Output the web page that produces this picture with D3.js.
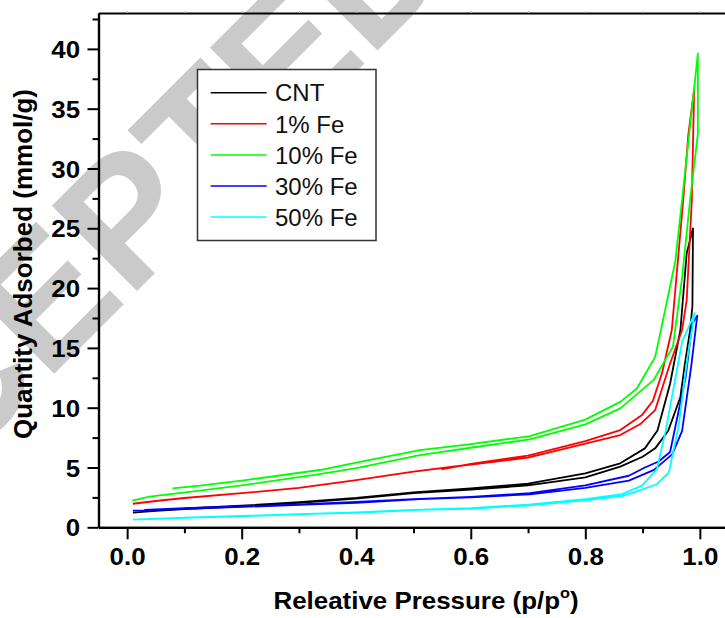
<!DOCTYPE html>
<html><head><meta charset="utf-8">
<script src="https://cdn.jsdelivr.net/npm/d3@7"></script>
<style>html,body{margin:0;padding:0;background:#fff;}svg{display:block;}</style>
</head><body>
<script>
// ---- data ----
const seriesNames = ["CNT", "1% Fe", "10% Fe", "30% Fe", "50% Fe"];
const seriesColors = ["#000000", "#ff0000", "#00ff00", "#0000ff", "#00ffff"];

const cntAdsP = [0.01, 0.05, 0.1, 0.2, 0.3, 0.4, 0.5, 0.6, 0.7, 0.8, 0.861, 0.9, 0.922, 0.945, 0.966, 0.974, 0.983, 0.987, 0.988];
const cntAdsQ = [1.22, 1.38, 1.52, 1.75, 2.05, 2.4, 2.85, 3.15, 3.5, 4.18, 5.07, 5.9, 6.6, 8.1, 10.9, 13.7, 16.5, 18.5, 25.0];
const cntDesP = [0.988, 0.977, 0.966, 0.948, 0.926, 0.904, 0.861, 0.8, 0.7, 0.6, 0.5, 0.4, 0.3, 0.2, 0.1];
const cntDesQ = [25.0, 22.9, 16.5, 12.0, 8.1, 6.6, 5.35, 4.5, 3.65, 3.25, 2.92, 2.45, 2.1, 1.8, 1.58];

const fe1AdsP = [0.01, 0.05, 0.1, 0.2, 0.3, 0.4, 0.5, 0.6, 0.7, 0.8, 0.861, 0.896, 0.922, 0.948, 0.969, 0.977, 0.986, 0.99];
const fe1AdsQ = [1.97, 2.2, 2.45, 2.85, 3.3, 3.95, 4.65, 5.25, 5.83, 7.0, 7.71, 8.63, 9.8, 13.7, 16.5, 19.0, 27.4, 36.6];
const fe1DesP = [0.99, 0.98, 0.971, 0.951, 0.934, 0.918, 0.899, 0.861, 0.8, 0.7, 0.6, 0.549];
const fe1DesQ = [36.6, 32.9, 27.4, 16.5, 12.9, 10.58, 9.38, 8.13, 7.2, 6.0, 5.3, 4.85];

const fe10AdsP = [0.009, 0.039, 0.127, 0.2, 0.336, 0.4, 0.511, 0.6, 0.703, 0.8, 0.861, 0.919, 0.953, 0.969, 0.983, 0.9965, 0.9965];
const fe10AdsQ = [2.22, 2.56, 3.06, 3.5, 4.45, 4.95, 6.04, 6.65, 7.35, 8.6, 9.94, 12.3, 15.1, 20.9, 27.4, 32.9, 39.6];
const fe10DesP = [0.9965, 0.969, 0.957, 0.932, 0.922, 0.89, 0.861, 0.8, 0.703, 0.6, 0.511, 0.4, 0.336, 0.2, 0.127, 0.079];
const fe10DesQ = [39.6, 27.4, 22.2, 16.5, 14.25, 11.6, 10.49, 9.0, 7.63, 6.95, 6.46, 5.4, 4.79, 3.9, 3.48, 3.26];

const fe30AdsP = [0.01, 0.127, 0.2, 0.336, 0.4, 0.511, 0.6, 0.703, 0.8, 0.876, 0.92, 0.952, 0.969, 0.985, 0.9955];
const fe30AdsQ = [1.39, 1.59, 1.7, 1.95, 2.05, 2.36, 2.5, 2.76, 3.3, 3.9, 4.8, 6.12, 8.07, 13.5, 17.7];
const fe30DesP = [0.9955, 0.9866, 0.975, 0.948, 0.928, 0.904, 0.876, 0.8, 0.703, 0.6, 0.5, 0.4, 0.3, 0.2, 0.1, 0.03];
const fe30DesQ = [17.7, 17.0, 12.5, 6.3, 5.5, 5.0, 4.31, 3.5, 2.85, 2.55, 2.35, 2.12, 1.92, 1.74, 1.6, 1.45];

const fe50AdsP = [0.01, 0.127, 0.2, 0.336, 0.4, 0.511, 0.6, 0.703, 0.8, 0.864, 0.887, 0.925, 0.946, 0.963, 0.978, 0.991];
const fe50AdsQ = [0.64, 0.84, 0.92, 1.14, 1.2, 1.45, 1.55, 1.84, 2.25, 2.6, 2.97, 3.6, 4.6, 8.5, 14.1, 17.9];
const fe50DesP = [0.991, 0.969, 0.94, 0.925, 0.899, 0.864, 0.8, 0.7, 0.6, 0.5, 0.4, 0.3, 0.2, 0.1];
const fe50DesQ = [17.9, 15.5, 8.0, 4.87, 3.48, 2.78, 2.35, 1.9, 1.6, 1.45, 1.25, 1.1, 0.95, 0.8];

const xMajorTicks = [0.0, 0.2, 0.4, 0.6, 0.8, 1.0];
const xMinorTicks = [0.1, 0.3, 0.5, 0.7, 0.9];
const yMajorTicks = [0, 5, 10, 15, 20, 25, 30, 35, 40];
const yMinorTicks = [2.5, 7.5, 12.5, 17.5, 22.5, 27.5, 32.5, 37.5, 42.5];

const xTitle = "Releative Pressure (p/p";
const yTitle = "Quantity Adsorbed (mmol/g)";
const watermark = "ACCEPTED MANUSCRIPT";

// ---- build ----
const series = [
  [cntAdsP, cntAdsQ, cntDesP, cntDesQ],
  [fe1AdsP, fe1AdsQ, fe1DesP, fe1DesQ],
  [fe10AdsP, fe10AdsQ, fe10DesP, fe10DesQ],
  [fe30AdsP, fe30AdsQ, fe30DesP, fe30DesQ],
  [fe50AdsP, fe50AdsQ, fe50DesP, fe50DesQ]
].map((s, i) => ({
  name: seriesNames[i], color: seriesColors[i],
  pts: s[0].map((p, j) => [p, s[1][j]]).concat(s[2].map((p, j) => [p, s[3][j]]))
}));

const W = 725, H = 618;
const L = 98.5, R = 728.5, T = 13, B = 527.3;
const svg = d3.select("body").append("svg").attr("width", W).attr("height", H)
  .style("font-family", "'Liberation Sans', Arial, sans-serif");
svg.append("rect").attr("width", W).attr("height", H).attr("fill", "#fff");

// watermark (behind everything)
svg.append("text").text(watermark)
  .attr("transform", "translate(-222,650) rotate(-45)")
  .attr("font-size", 175).attr("font-weight", "bold").attr("fill", "#cacaca");

const x = d3.scaleLinear().domain([-0.05, 1.05]).range([L, R]);
const y = d3.scaleLinear().domain([0, 43]).range([B, T]);

// curves
const line = d3.line().x(d => x(d[0])).y(d => y(d[1]));
const gPlot = svg.append("g");
gPlot.selectAll("path").data(series).join("path")
  .attr("d", d => line(d.pts)).attr("fill", "none")
  .attr("stroke", d => d.color).attr("stroke-width", 1.8).attr("stroke-linejoin", "round");

// axes
function styleAxis(g) {
  g.select(".domain").attr("stroke-width", 2.2);
  g.selectAll(".tick line").attr("stroke-width", 2);
  g.selectAll("text").attr("font-size", 24).attr("font-weight", "bold").attr("fill", "#000")
    .attr("font-family", "'Liberation Sans', Arial, sans-serif");
}
svg.append("g").attr("transform", `translate(${L},0)`)
  .call(d3.axisLeft(y).tickValues(yMinorTicks).tickSize(6).tickSizeOuter(0).tickFormat(""))
  .call(styleAxis);
const gy = svg.append("g").attr("transform", `translate(${L},0)`)
  .call(d3.axisLeft(y).tickValues(yMajorTicks).tickSize(11).tickSizeOuter(0).tickPadding(6).tickFormat(d3.format("d")))
  .call(styleAxis);
gy.selectAll("text").attr("transform", "scale(1.08,1)").attr("dy", "0.36em");

svg.append("g").attr("transform", `translate(0,${B})`)
  .call(d3.axisBottom(x).tickValues(xMinorTicks).tickSize(6).tickSizeOuter(0).tickFormat(""))
  .call(styleAxis);
const gx = svg.append("g").attr("transform", `translate(0,${B})`)
  .call(d3.axisBottom(x).tickValues(xMajorTicks).tickSize(12).tickSizeOuter(0).tickPadding(9).tickFormat(d3.format(".1f")))
  .call(styleAxis);
gx.selectAll("text").attr("transform", "scale(1.08,1)");

// top frame with faint ticks
const gt = svg.append("g").attr("transform", `translate(0,${T})`)
  .call(d3.axisTop(x).tickValues(xMajorTicks.concat(xMinorTicks)).tickSize(2).tickSizeOuter(0).tickFormat(""));
gt.select(".domain").attr("stroke-width", 2.2);
gt.selectAll(".tick line").attr("stroke", "#bbb").attr("stroke-width", 1);

// axis titles
const xt = svg.append("text").attr("x", 426).attr("y", 609).attr("text-anchor", "middle")
  .attr("font-size", 24).attr("font-weight", "bold").attr("fill", "#000")
  .attr("transform", "translate(426,0) scale(1.08,1) translate(-426,0)");
xt.append("tspan").text(xTitle);
xt.append("tspan").text("o").attr("font-size", 15).attr("dy", -11);
xt.append("tspan").text(")").attr("dy", 11);

svg.append("text").text(yTitle)
  .attr("transform", "translate(31.5,264) rotate(-90)")
  .attr("text-anchor", "middle").attr("font-size", 26).attr("font-weight", "bold").attr("fill", "#000");

// legend
const lg = svg.append("g");
lg.append("rect").attr("x", 197.5).attr("y", 69.5).attr("width", 178.5).attr("height", 171)
  .attr("fill", "#fff").attr("stroke", "#333").attr("stroke-width", 1.5);
const rows = lg.selectAll("g.row").data(series).join("g").attr("class", "row")
  .attr("transform", (d, i) => `translate(0,${92.7 + i * 31.1})`);
rows.append("line").attr("x1", 210.7).attr("x2", 266.7)
  .attr("stroke", d => d.color).attr("stroke-width", 1.5);
rows.append("text").attr("x", 275).attr("y", 8.7).text(d => d.name)
  .attr("font-size", 24).attr("fill", "#111");
</script>
</body></html>
